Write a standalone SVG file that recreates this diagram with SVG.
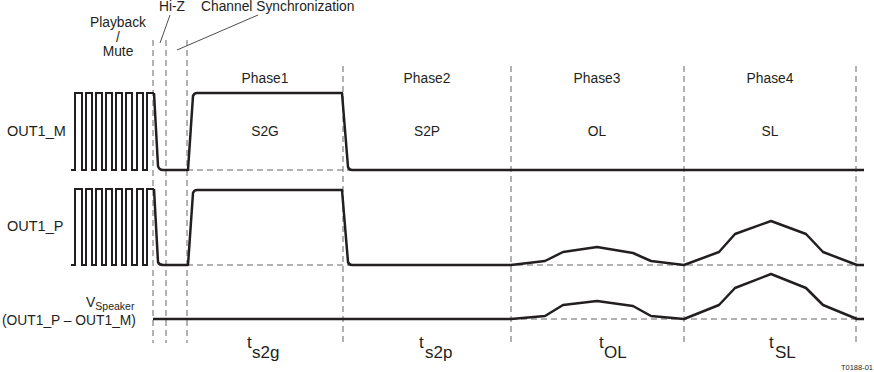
<svg xmlns="http://www.w3.org/2000/svg" width="874" height="372" viewBox="0 0 874 372">
<style>
text{font-family:"Liberation Sans",Arial,sans-serif;fill:#231f20;font-size:13.8px}
.c{text-anchor:middle}
.d{fill:none;stroke:#666;stroke-width:1;stroke-dasharray:6 4}
.w{fill:none;stroke:#231f20;stroke-width:2.5;stroke-linejoin:round}
.sq{fill:none;stroke:#231f20;stroke-width:2}
.ld{fill:none;stroke:#231f20;stroke-width:0.8}
text.t{font-size:17px}
text.lb{font-size:14.5px}
text.v{font-size:14px}
text.fig{font-size:7.5px;text-anchor:end}
</style>
<rect width="874" height="372" fill="#fff"/>
<g id="labels">
<text x="118" y="27" class="c">Playback</text>
<text x="118" y="42" class="c">/</text>
<text x="118" y="56" class="c">Mute</text>
<text x="172" y="11" class="c">Hi-Z</text>
<text x="201" y="11">Channel Synchronization</text>
<text x="265" y="83" class="c">Phase1</text>
<text x="427" y="83" class="c">Phase2</text>
<text x="597" y="83" class="c">Phase3</text>
<text x="770" y="83" class="c">Phase4</text>
<text x="265" y="136" class="c">S2G</text>
<text x="427" y="136" class="c">S2P</text>
<text x="597" y="136" class="c">OL</text>
<text x="770" y="136" class="c">SL</text>
<text x="7" y="136" class="lb">OUT1_M</text>
<text x="7" y="231" class="lb">OUT1_P</text>
<text x="86" y="307" class="v">V<tspan font-size="10.5" dy="3">Speaker</tspan></text>
<text x="2" y="325">(OUT1_P – OUT1_M)</text>
<text x="247" y="348" class="t">t</text><text x="252" y="358" class="t">s2g</text>
<text x="419" y="348" class="t">t</text><text x="425" y="358" class="t">s2p</text>
<text x="599" y="348" class="t">t</text><text x="604" y="358" class="t">OL</text>
<text x="769" y="348" class="t">t</text><text x="775" y="358" class="t">SL</text>
<text x="873" y="370" class="fig">T0188-01</text>
</g>
<g id="connectors">
<path class="ld" d="M170,15 L160,43 M258,15 L177,50"/>
<path class="d" d="M153,40 V343 M166,40 V343 M187,40 V343 M343,66 V343 M511,66 V343 M684,66 V343 M856,66 V343"/>
<path class="d" d="M187,170 H352 M187,265 H856 M511,319 H856"/>
</g>
<g id="out1_m">
<path class="sq" d="M71,170 H75 V93 H82 V170 H86 V93 H92 V170 H96 V93 H102 V170 H106 V93 H112 V170 H116 V93 H122 V170 H126 V93 H132 V170 H137 V93 H143 V170 H147 V93 H154"/>
<path class="w" d="M154,93 L158,166 Q159,170 163,170 H188 L193,96 Q194,93 197,93 H342 L348,167 Q349,170 352,170 H864"/>
</g>
<g id="out1_p">
<path class="sq" d="M71,265 H75 V189 H82 V265 H86 V189 H92 V265 H96 V189 H102 V265 H106 V189 H112 V265 H116 V189 H122 V265 H126 V189 H132 V265 H137 V189 H143 V265 H147 V189 H154"/>
<path class="w" d="M154,189 L158,262 Q159,265 163,265 H188 L193,193 Q194,190 197,190 H342 L348,262 Q349,265 352,265 H511 L545,261 L563,252 L597,247 L633,253 L651,261 L684,265 L719,252 L735,234 L771,221 L806,234 L823,252 L857,265 H864"/>
</g>
<g id="vspeaker">
<path class="w" d="M153,319 H511 L545,316 L563,305 L597,301 L633,306 L651,316 L684,319 L719,305 L735,288 L771,274 L806,288 L823,305 L857,319 H864"/>
</g>
</svg>
